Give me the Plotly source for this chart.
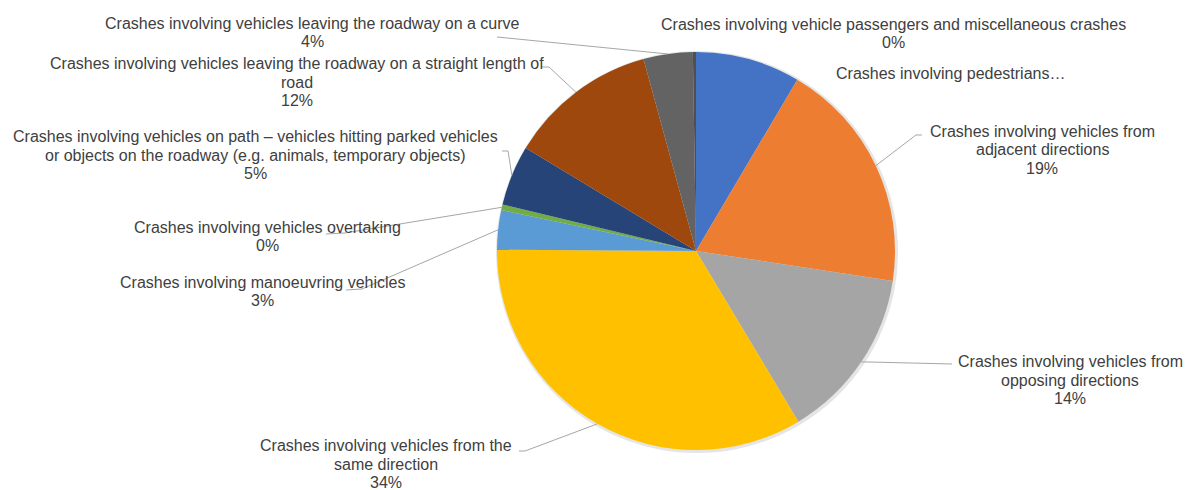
import math
import plotly.graph_objects as go

# ---------------- data ----------------
categories = [
    "Crashes involving pedestrians…",
    "Crashes involving vehicles from adjacent directions",
    "Crashes involving vehicles from opposing directions",
    "Crashes involving vehicles from the same direction",
    "Crashes involving manoeuvring vehicles",
    "Crashes involving vehicles overtaking",
    "Crashes involving vehicles on path – vehicles hitting parked vehicles or objects on the roadway (e.g. animals, temporary objects)",
    "Crashes involving vehicles leaving the roadway on a straight length of road",
    "Crashes involving vehicles leaving the roadway on a curve",
    "Crashes involving vehicle passengers and miscellaneous crashes",
]
shares = [8.5, 18.9, 14.0, 33.7, 3.2, 0.45, 4.9, 12.1, 4.0, 0.25]
label_lines = [
    ["Crashes involving pedestrians…"],
    ["Crashes involving vehicles from", "adjacent directions"],
    ["Crashes involving vehicles from", "opposing directions"],
    ["Crashes involving vehicles from the", "same direction"],
    ["Crashes involving manoeuvring vehicles"],
    ["Crashes involving vehicles overtaking"],
    ["Crashes involving vehicles on path – vehicles hitting parked vehicles",
     "or objects on the roadway (e.g. animals, temporary objects)"],
    ["Crashes involving vehicles leaving the roadway on a straight length of", "road"],
    ["Crashes involving vehicles leaving the roadway on a curve"],
    ["Crashes involving vehicle passengers and miscellaneous crashes"],
]
show_percent = [False, True, True, True, True, True, True, True, True, True]

# ---------------- style / layout ----------------
colors = ["#4472C4", "#ED7D31", "#A5A5A5", "#FFC000", "#5B9BD5",
          "#70AD47", "#264478", "#9E480E", "#636363", "#4F4F4F"]
W, H = 1187, 490
CX, CY, R = 696, 251, 199          # pie centre / radius in pixels
LINE_STEP = 18.5                   # label line spacing (px)
FONT = dict(family="Liberation Sans, Arial", size=16, color="#404040")

# label block: centre x and first-line y (px); leader anchor points on label side (px)
label_pos = [(950, 73), (1042, 131), (1070, 361.5), (386, 445.5), (262, 282),
             (267, 227), (255, 136.5), (297, 63.5), (312, 23), (893, 24)]
leader_pts = [None,
              [(922, 135), (916, 135)],
              [(952, 364)],
              [(519, 451), (525, 451)],
              [(346, 290), (362, 289)],
              [(326, 234), (345, 233)],
              [(502, 151), (508, 151)],
              [(541, 67), (549, 67)],
              [(497, 37)],
              None]


def px(x):
    return x / W


def py(y):
    return 1 - y / H


fig = go.Figure()

# soft shadow behind pie
fig.add_trace(go.Pie(
    values=[1], marker=dict(colors=["rgba(0,0,0,0.10)"], line=dict(width=0)),
    textinfo="none", hoverinfo="skip", showlegend=False, sort=False,
    domain=dict(x=[px(CX - R - 1), px(CX + R + 3)], y=[py(CY + R + 3), py(CY - R - 1)]),
))

fig.add_trace(go.Pie(
    labels=categories, values=shares, sort=False, direction="clockwise",
    rotation=0, textinfo="none", showlegend=False,
    marker=dict(colors=colors, line=dict(width=0)),
    domain=dict(x=[px(CX - R), px(CX + R)], y=[py(CY + R), py(CY - R)]),
))

total = sum(shares)
annotations = []
shapes = []
cum = 0.0
for i, v in enumerate(shares):
    mid = (cum + v / 2) / total * 2 * math.pi
    cum += v
    lines = list(label_lines[i])
    if show_percent[i]:
        lines.append(f"{int(v / total * 100 + 0.5)}%")
    lx, ly = label_pos[i]
    for k, t in enumerate(lines):
        annotations.append(dict(
            x=px(lx), y=py(ly + k * LINE_STEP), xref="paper", yref="paper", text=t,
            showarrow=False, xanchor="center", yanchor="middle", align="center",
            font=FONT,
        ))
    if leader_pts[i]:
        ex = CX + R * math.sin(mid)
        ey = CY - R * math.cos(mid)
        pts = leader_pts[i] + [(ex, ey)]
        path = "M " + " L ".join(f"{px(a):.5f},{py(b):.5f}" for a, b in pts)
        shapes.append(dict(type="path", path=path, xref="paper", yref="paper",
                           line=dict(color="#A6A6A6", width=1)))

fig.update_layout(
    width=W, height=H, margin=dict(l=0, r=0, t=0, b=0),
    paper_bgcolor="white", plot_bgcolor="white",
    annotations=annotations, shapes=shapes,
)

fig.write_html("out.html", config={"displayModeBar": False},
               post_script="document.body.style.margin='0';")
